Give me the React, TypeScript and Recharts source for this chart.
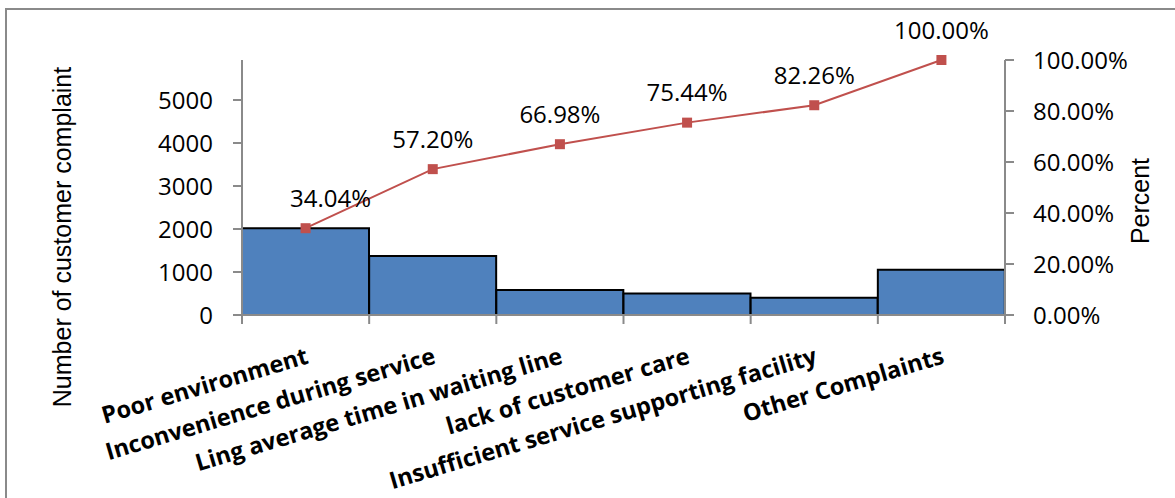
import React from 'react';
import { ComposedChart, Bar, Line, XAxis, YAxis, LabelList, Label } from 'recharts';

// Pareto of customer complaints
const CATEGORIES = [
  'Poor environment',
  'Inconvenience during service',
  'Ling average time in waiting line',
  'lack of customer care',
  'Insufficient service supporting facility',
  'Other Complaints',
];
const COMPLAINTS = [2019, 1373, 580, 502, 404, 1052];
const CUMULATIVE_PCT = [34.04, 57.2, 66.98, 75.44, 82.26, 100];
const COUNT_TICKS = [0, 1000, 2000, 3000, 4000, 5000];
const PCT_TICKS = [0, 20, 40, 60, 80, 100];

const TOTAL = COMPLAINTS.reduce((a, b) => a + b, 0);

const data = CATEGORIES.map((name, i) => ({
  name,
  count: COMPLAINTS[i],
  cum: CUMULATIVE_PCT[i],
}));

const AXIS_GRAY = '#8a8a8a';
const RED = '#C0504D';
const BLUE = '#4F81BD';
const TICK_FONT = { fill: '#000', fontSize: 24, fontFamily: 'Open Sans' };
const PLOT_WIDTH = 1175 - 242 - 170;

// category label plus tick marks on the category boundaries
const CategoryTick = (props: any) => {
  const { x, y, payload, index } = props;
  const half = payload && payload.offset ? payload.offset : PLOT_WIDTH / CATEGORIES.length / 2;
  const tx = x + 4;
  const ty = y + 48;
  const isLast = index === CATEGORIES.length - 1;
  return (
    <g>
      <line x1={x - half} y1={y} x2={x - half} y2={y + 9} stroke={AXIS_GRAY} strokeWidth={2} />
      {isLast && (
        <line x1={x + half} y1={y} x2={x + half} y2={y + 9} stroke={AXIS_GRAY} strokeWidth={2} />
      )}
      <text
        x={tx}
        y={ty}
        transform={`rotate(-16.5, ${tx}, ${ty})`}
        textAnchor="end"
        fontFamily="Open Sans"
        fontWeight={700}
        fontSize={23.5}
        fill="#000"
      >
        {payload.value}
      </text>
    </g>
  );
};

const SquareDot = (props: any) => {
  const { cx, cy } = props;
  if (cx == null || cy == null) return <g />;
  return <rect x={cx - 5} y={cy - 5} width={10} height={10} fill={RED} />;
};

const PctLabel = (props: any) => {
  const { x, y, value, index } = props;
  // first label sits right of its point so it clears the rising line
  const shift = index === 0 || value === CUMULATIVE_PCT[0] ? 25 : 0;
  return (
    <text
      x={x + shift}
      y={y - 31}
      textAnchor="middle"
      dominantBaseline="central"
      {...TICK_FONT}
    >
      {Number(value).toFixed(2)}%
    </text>
  );
};

export default function App() {
  return (
    <div
      style={{
        position: 'absolute',
        left: 0,
        top: 0,
        width: 1175,
        height: 498,
        overflow: 'hidden',
        background: '#fff',
      }}
    >
      <div
        style={{
          position: 'absolute',
          left: 5,
          top: 8,
          width: 1300,
          height: 700,
          border: `2px solid ${AXIS_GRAY}`,
        }}
      />
      <div style={{ position: 'absolute', left: 0, top: 0 }}>
        <ComposedChart
          width={1175}
          height={498}
          data={data}
          margin={{ top: 60, right: 0, left: 0, bottom: 0 }}
          barCategoryGap={0}
          barGap={0}
        >
          <XAxis
            dataKey="name"
            height={183}
            interval={0}
            axisLine={{ stroke: AXIS_GRAY, strokeWidth: 2 }}
            tickLine={false}
            tickSize={0}
            tickMargin={0}
            tick={CategoryTick}
          />
          <YAxis
            yAxisId="count"
            width={242}
            domain={[0, TOTAL]}
            ticks={COUNT_TICKS}
            allowDataOverflow
            axisLine={{ stroke: AXIS_GRAY, strokeWidth: 2 }}
            tickLine={{ stroke: AXIS_GRAY, strokeWidth: 2 }}
            tickSize={9}
            tickMargin={20}
            tick={TICK_FONT}
          >
            <Label
              content={() => (
                <text
                  x={62}
                  y={237}
                  transform="rotate(-90, 62, 237)"
                  textAnchor="middle"
                  dominantBaseline="central"
                  fontFamily="Liberation Sans, Arial"
                  fontSize={25}
                  fill="#000"
                >
                  Number of customer complaint
                </text>
              )}
            />
          </YAxis>
          <YAxis
            yAxisId="pct"
            orientation="right"
            width={170}
            domain={[0, 100]}
            ticks={PCT_TICKS}
            tickFormatter={(v: number) => `${v.toFixed(2)}%`}
            axisLine={{ stroke: AXIS_GRAY, strokeWidth: 2 }}
            tickLine={{ stroke: AXIS_GRAY, strokeWidth: 2 }}
            tickSize={9}
            tickMargin={19}
            tick={TICK_FONT}
          >
            <Label
              content={() => (
                <text
                  x={1140}
                  y={201}
                  transform="rotate(-90, 1140, 201)"
                  textAnchor="middle"
                  dominantBaseline="central"
                  fontFamily="Liberation Sans, Arial"
                  fontSize={25}
                  fill="#000"
                >
                  Percent
                </text>
              )}
            />
          </YAxis>
          <Bar
            yAxisId="count"
            dataKey="count"
            fill={BLUE}
            stroke="#000"
            strokeWidth={2}
            isAnimationActive={false}
          />
          <Line
            yAxisId="pct"
            dataKey="cum"
            stroke={RED}
            strokeWidth={2}
            dot={SquareDot}
            activeDot={false}
            isAnimationActive={false}
          >
            <LabelList dataKey="cum" content={PctLabel} />
          </Line>
        </ComposedChart>
      </div>
    </div>
  );
}
